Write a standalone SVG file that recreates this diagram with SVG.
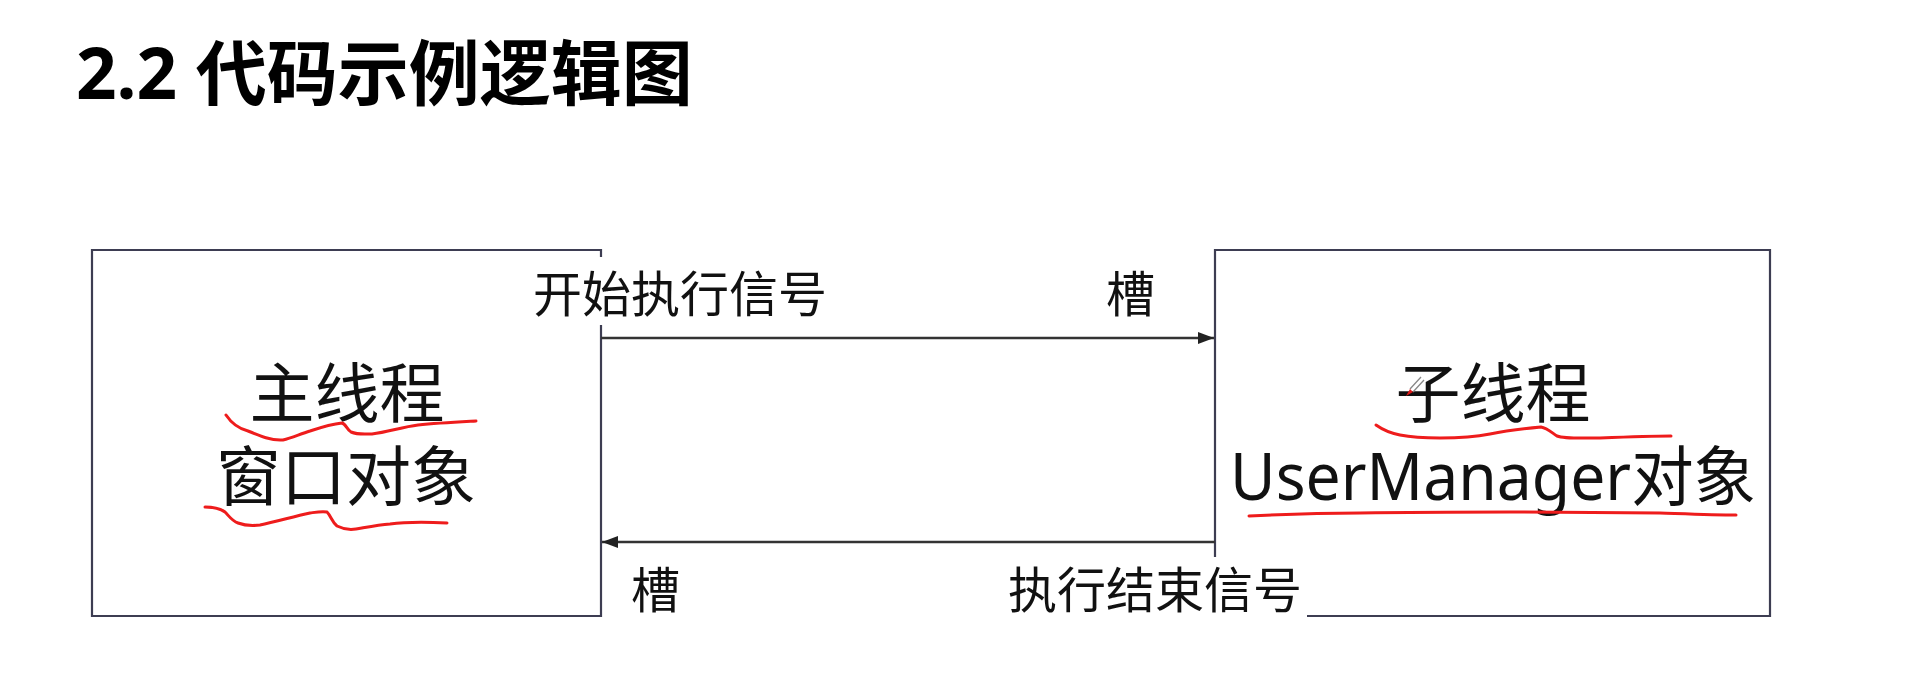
<svg xmlns="http://www.w3.org/2000/svg" width="1919" height="687" viewBox="0 0 1919 687">
<style>
.box{fill:none;stroke:#3d3d52;stroke-width:2.2}
.conn{stroke:#333333;stroke-width:2.4;fill:none}
.lbl{font-family:"Noto Sans CJK SC","Noto Sans",sans-serif;font-size:49px;fill:#111111}
.node{font-family:"Noto Sans","Noto Sans CJK SC",sans-serif;font-size:65px;fill:#111111;text-anchor:middle}
.title{font-family:"Noto Sans","Noto Sans CJK SC",sans-serif;font-size:71px;font-weight:bold;fill:#000000}
.ink{fill:none;stroke:#ee1c1c;stroke-width:3;stroke-linecap:round;stroke-linejoin:round}
</style>
<defs>
<marker id="arr" viewBox="0 0 16 12" refX="16" refY="6" markerWidth="16" markerHeight="12" markerUnits="userSpaceOnUse" orient="auto">
<path d="M0,0 L16,6 L0,12 Z" fill="#222222"/>
</marker>
</defs>
<rect width="1919" height="687" fill="#ffffff"/>
<text class="title" x="76" y="99">2.2 代码示例逻辑图</text>

<g id="main-thread">
<path class="box" d="M601,257 V250 H92 V616 H601 V325"/>
<text class="node" x="347" y="417">主线程</text>
<text class="node" x="346" y="500">窗口对象</text>
</g>

<g id="worker-thread">
<path class="box" d="M1215,557 V250 H1770 V616 H1307"/>
<text class="node" x="1493" y="417">子线程</text>
<text class="node" x="1493" y="500" textLength="526" lengthAdjust="spacingAndGlyphs">UserManager对象</text>
</g>

<g id="connectors">
<line class="conn" x1="601" y1="338" x2="1214" y2="338" marker-end="url(#arr)"/>
<line class="conn" x1="1215" y1="542" x2="602" y2="542" marker-end="url(#arr)"/>
<text class="lbl" x="533" y="312">开始执行信号</text>
<text class="lbl" x="1106" y="312">槽</text>
<text class="lbl" x="631" y="608">槽</text>
<text class="lbl" x="1008" y="608">执行结束信号</text>
</g>

<g id="annotations">
<path class="ink" d="M226,415 C232,424 240,429 248,431 C260,436 272,441 283,440 C292,438 300,434 310,431 C322,427 332,424 342,423 C346,424 347,430 351,432 C358,435 364,434 372,434 C388,432 402,427 418,425 C438,423 458,422 476,421"/>
<path class="ink" d="M205,507 C214,507 221,509 225,512 C229,516 232,521 238,523 C246,526 252,526 260,525 C275,522 292,517 310,513 C317,512 322,511 327,512 C331,516 332,522 337,526 C343,529 350,530 356,529 C368,527 378,525 390,524 C405,522 425,522 447,523"/>
<path class="ink" d="M1376,425 C1383,430 1390,433 1400,435 C1410,437 1420,438 1440,438 C1460,438 1475,437 1490,434 C1505,431 1520,429 1541,427 C1547,428 1551,432 1557,436 C1565,439 1580,438 1600,438 C1625,437 1650,436 1671,436"/>
<path class="ink" d="M1249,516 C1290,514 1320,513 1360,513 C1420,512 1470,512 1510,512 C1570,512 1620,513 1660,513 C1690,514 1715,515 1736,515"/>
<g id="pen-cursor">
<path d="M1410,389 L1421,377 M1413,392 L1424,380" stroke="#888888" stroke-width="1.3" fill="none"/>
<path d="M1406,396 L1410,389 L1413,392 Z" fill="#e01818"/>
</g>
</g>
</svg>
